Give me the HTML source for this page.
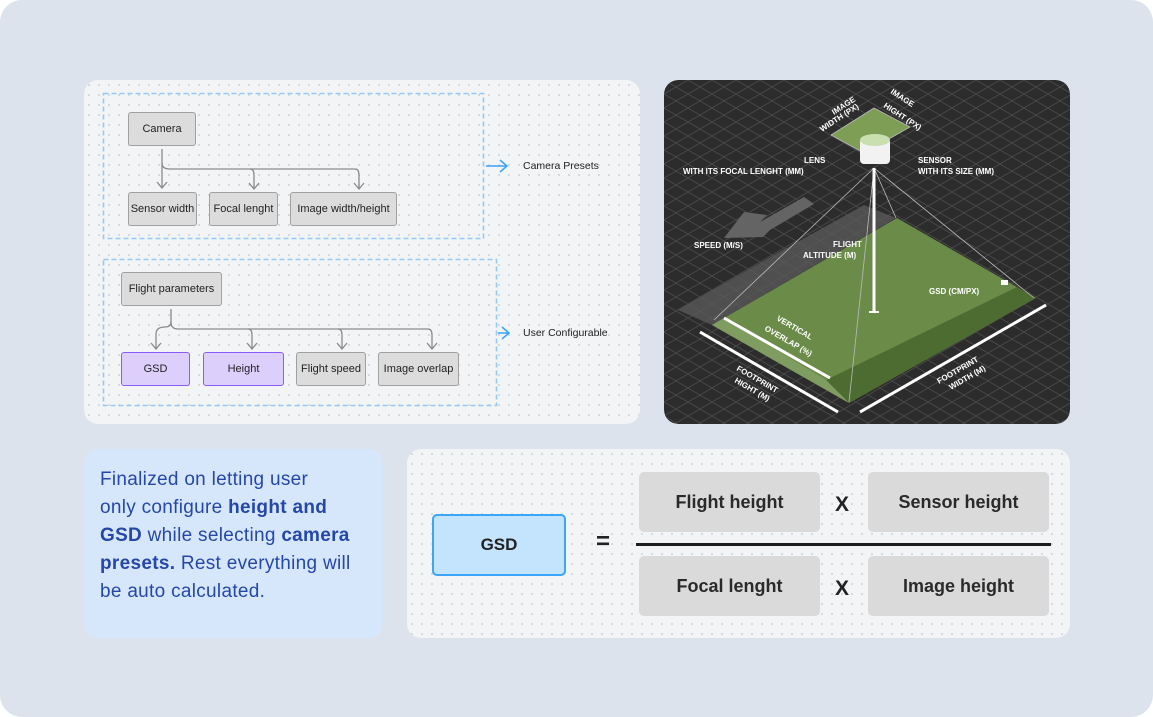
<!DOCTYPE html>
<html><head><meta charset="utf-8"><style>
*{margin:0;padding:0;box-sizing:border-box}
body{width:1153px;height:717px;background:#fff;font-family:"Liberation Sans",sans-serif;position:relative;overflow:hidden}
.bg{position:absolute;left:0;top:0;width:1153px;height:717px;background:#dce3ec;border-radius:22px}
.panel{position:absolute;background-color:#f3f4f6;background-image:radial-gradient(#cfd3d9 0.9px,transparent 1.1px);background-size:10px 10px;border-radius:14px}
.n{position:absolute;background:#dcdcdc;border:1.5px solid #a0a0a0;border-radius:3px;font-size:11px;color:#222;display:flex;align-items:center;justify-content:center}
.p{background:#dccffc;border:1.5px solid #8b5cf6}
.lbl{position:absolute;font-size:10.5px;color:#222}
.f{position:absolute;background:#dadada;border-radius:5px;font-size:18px;font-weight:bold;color:#2a2a2a;display:flex;align-items:center;justify-content:center}
</style></head><body>
<div class="bg"></div>

<div class="panel" style="left:84px;top:80px;width:556px;height:344px"></div>
<svg style="position:absolute;left:0;top:0" width="1153" height="717">
<g fill="none" stroke="#93c9f7" stroke-width="1.6" stroke-dasharray="5 3">
<rect x="103.5" y="93.5" width="380" height="145"/>
<rect x="103.5" y="259.5" width="393" height="146"/>
</g>
<g fill="none" stroke="#8a8a8a" stroke-width="1.3">
<path d="M162 149 V187 M157 182 L162 188 L167 182"/>
<path d="M162 163 Q162 169 170 169 H250 Q254 169 254 175 V188 M249 183 L254 189 L259 183"/>
<path d="M250 169 H355 Q359 169 359 175 V188 M354 183 L359 189 L364 183"/>
<path d="M171 309 V322 Q171 327 165 327 Q156 327 156 334 V348 M151 343 L156 349 L161 343"/>
<path d="M171 322 Q171 329 178 329 H248 Q252 329 252 335 V348 M247 343 L252 349 L257 343"/>
<path d="M248 329 H338 Q342 329 342 335 V348 M337 343 L342 349 L347 343"/>
<path d="M338 329 H428 Q432 329 432 335 V348 M427 343 L432 349 L437 343"/>
</g>
<g fill="none" stroke="#38a4f5" stroke-width="1.5">
<path d="M486 166 H506 M500 160 L507 166 L500 172"/>
<path d="M498 333 H508 M502 327 L509 333 L502 339"/>
</g>
</svg>
<div class="n" style="left:128px;top:112px;width:68px;height:34px">Camera</div>
<div class="n" style="left:128px;top:192px;width:69px;height:34px">Sensor width</div>
<div class="n" style="left:209px;top:192px;width:69px;height:34px">Focal lenght</div>
<div class="n" style="left:290px;top:192px;width:107px;height:34px">Image width/height</div>
<div class="lbl" style="left:523px;top:160px">Camera Presets</div>
<div class="n" style="left:121px;top:272px;width:101px;height:34px">Flight parameters</div>
<div class="n p" style="left:121px;top:352px;width:69px;height:34px">GSD</div>
<div class="n p" style="left:203px;top:352px;width:81px;height:34px">Height</div>
<div class="n" style="left:296px;top:352px;width:70px;height:34px">Flight speed</div>
<div class="n" style="left:378px;top:352px;width:81px;height:34px">Image overlap</div>
<div class="lbl" style="left:523px;top:327px">User Configurable</div>

<svg style="position:absolute;left:664px;top:80px;border-radius:14px" width="406" height="344" viewBox="0 0 406 344">
<defs>
<pattern id="g" width="24" height="14" patternUnits="userSpaceOnUse">
<path d="M0 0 L24 14 M24 0 L0 14" stroke="#4a4a4a" stroke-width="0.9"/>
</pattern>
<clipPath id="c"><rect width="406" height="344" rx="14"/></clipPath>
</defs>
<g clip-path="url(#c)">
<rect width="406" height="344" fill="#2c2c2c"/>
<rect width="406" height="344" fill="url(#g)"/>
<polygon points="14,230 110,175 200,125 232,138 48,245" fill="#595959" opacity="0.8"/>
<polygon points="60,158 80,132 103,135 96,142 140,117 150,124 106,150 99,157" fill="#646464"/>
<polygon points="48,245 233,138 372,218 185,323" fill="#6b8c48"/>
<polygon points="162,300 353,207 372,218 185,323" fill="#4d6c31"/>
<polygon points="48,245 60,238 172,306 162,300 185,323" fill="#7f9c61"/>
<g stroke="#bbb" stroke-width="0.8" fill="none">
<line x1="210" y1="88" x2="50" y2="240"/><line x1="210" y1="88" x2="185" y2="322"/>
<line x1="210" y1="88" x2="370" y2="218"/><line x1="210" y1="88" x2="232" y2="138"/>
</g>
<line x1="210" y1="88" x2="210" y2="232" stroke="#fff" stroke-width="3"/>
<line x1="205" y1="232" x2="215" y2="232" stroke="#fff" stroke-width="2"/>
<polygon points="167,55 210,28 246,47 200,73" fill="#7e9e55" stroke="#bbb" stroke-width="0.8"/>
<rect x="196" y="58" width="30" height="26" rx="4" fill="#f2f2f2"/>
<ellipse cx="211" cy="60" rx="15" ry="6" fill="#c9dfb0"/>
<g stroke="#fff" stroke-width="3" fill="none">
<path d="M36 252 L174 332"/><path d="M60 238 L166 298"/><path d="M196 332 L382 225"/>
</g>
<rect x="337" y="200" width="7" height="5" fill="#fff"/>
<g font-family="Liberation Sans" font-weight="bold" font-size="8" fill="#fff">
<text x="19" y="94">WITH ITS FOCAL LENGHT (MM)</text><text x="140" y="83">LENS</text>
<text x="254" y="83">SENSOR</text><text x="254" y="94">WITH ITS SIZE (MM)</text>
<text x="30" y="168">SPEED (M/S)</text>
<text x="169" y="167">FLIGHT</text><text x="139" y="178">ALTITUDE (M)</text>
<text x="265" y="214">GSD (CM/PX)</text>
<text transform="translate(170,35) rotate(-33)">IMAGE</text>
<text transform="translate(158,52) rotate(-33)">WIDTH (PX)</text>
<text transform="translate(226,13) rotate(33)">IMAGE</text>
<text transform="translate(219,27) rotate(33)">HIGHT (PX)</text>
<text transform="translate(112,240) rotate(30)">VERTICAL</text>
<text transform="translate(100,250) rotate(30)">OVERLAP (%)</text>
<text transform="translate(72,290) rotate(30)">FOOTPRINT</text>
<text transform="translate(70,302) rotate(30)">HIGHT (M)</text>
<text transform="translate(275,304) rotate(-30)">FOOTPRINT</text>
<text transform="translate(287,310) rotate(-30)">WIDTH (M)</text>
</g>
</g>
</svg>

<div style="position:absolute;left:84px;top:449px;width:299px;height:189px;background:#d7e7fb;border-radius:14px;padding:17px 16px;font-size:19px;line-height:28px;color:#2447a8;letter-spacing:0.3px;white-space:nowrap">Finalized on letting user<br>only configure <b>height and</b><br><b>GSD</b> while selecting <b>camera</b><br><b>presets.</b> Rest everything will<br>be auto calculated.</div>

<div class="panel" style="left:407px;top:449px;width:663px;height:189px"></div>
<div style="position:absolute;left:432px;top:514px;width:134px;height:62px;background:#c4e3fd;border:2.5px solid #3ba5f6;border-radius:5px;display:flex;align-items:center;justify-content:center;font-weight:bold;font-size:17px;color:#222">GSD</div>
<div style="position:absolute;left:596px;top:528px;font-size:24px;font-weight:bold;color:#222">=</div>
<div class="f" style="left:639px;top:472px;width:181px;height:60px">Flight height</div>
<div class="f" style="left:868px;top:472px;width:181px;height:60px">Sensor height</div>
<div style="position:absolute;left:636px;top:543px;width:415px;height:3px;background:#1e1e1e"></div>
<div class="f" style="left:639px;top:556px;width:181px;height:60px">Focal lenght</div>
<div class="f" style="left:868px;top:556px;width:181px;height:60px">Image height</div>
<div style="position:absolute;left:835px;top:493px;font-size:21px;font-weight:bold;color:#222">X</div>
<div style="position:absolute;left:835px;top:577px;font-size:21px;font-weight:bold;color:#222">X</div>
</body></html>
